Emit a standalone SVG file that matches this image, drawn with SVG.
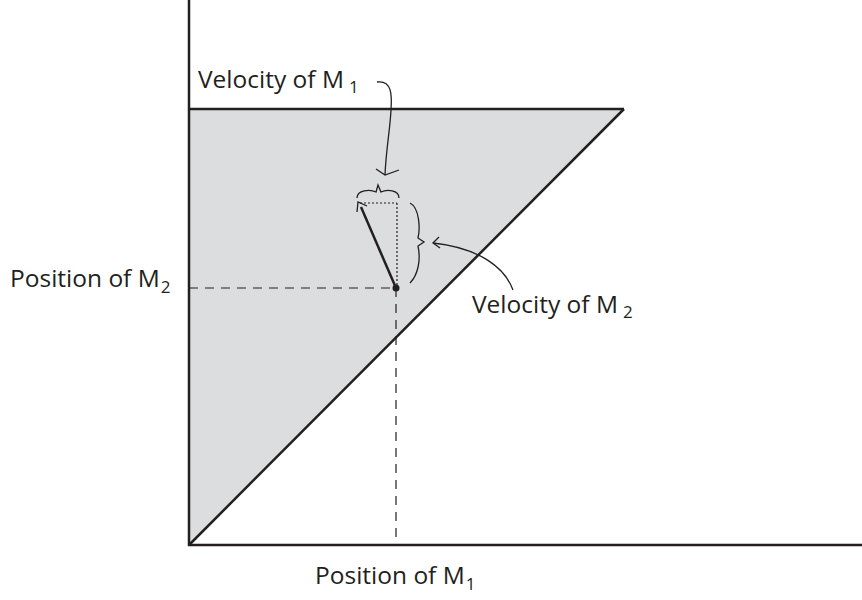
<svg xmlns="http://www.w3.org/2000/svg" width="862" height="600" viewBox="0 0 862 600">
<style>
.lbl{font-family:"Open Sans","Liberation Sans",sans-serif;font-size:24.5px;fill:#231f20}
.sub{font-size:17px}
.ax{stroke:#231f20;stroke-width:2.5;fill:none}
.thin{stroke:#231f20;stroke-width:1.3;fill:none}
.dash{stroke:#231f20;stroke-width:1.2;stroke-dasharray:9 7;fill:none}
.dot{stroke:#231f20;stroke-width:1.2;stroke-dasharray:2 2;fill:none}
</style>
<rect width="862" height="600" fill="#fff"/>
<g id="region">
<polygon points="189,109 624,109 189,545" fill="#dcdddf"/>
</g>
<g id="axes">
<line class="ax" x1="189" y1="0" x2="189" y2="546"/>
<line class="ax" x1="188" y1="545" x2="862" y2="545"/>
<line class="ax" x1="189" y1="109" x2="624" y2="109"/>
<line class="ax" x1="189" y1="545" x2="624" y2="109"/>
</g>
<g id="connectors">
<line class="dash" x1="189" y1="288" x2="396" y2="288"/>
<line class="dash" x1="396" y1="288" x2="396" y2="545"/>
<line class="dot" x1="360" y1="203" x2="397" y2="203"/>
<line class="dot" x1="397" y1="203" x2="397" y2="288"/>
<line stroke="#231f20" stroke-width="2.5" x1="396" y1="288" x2="361" y2="207"/>
<polyline class="thin" stroke-width="2.2" points="357,212 358,202 367,206"/>
<circle cx="396" cy="288" r="3.5" fill="#231f20"/>
<path class="thin" d="M357,198 C357,190 370,189 376,192 L378,185 L381,192 C387,189 399,190 399,198"/>
<path class="thin" d="M410,203 C420,208 420,230 418,238 L424,242 L418,246 C421,260 418,275 410,283"/>
<path class="thin" d="M513,290 C505,268 480,248 433,243"/>
<path class="thin" d="M439,237 L433,243 L440,248"/>
<path class="thin" stroke-width="1.8" d="M377,82 C392,80 392,95 391,110 C390,130 386,150 385,175"/>
<path class="thin" stroke-width="1.8" d="M376,169 L385,175 L399,170"/>
</g>
<g id="labels">
<text class="lbl" x="198" y="88">Velocity of M<tspan class="sub" dx="5" dy="5">1</tspan></text>
<text class="lbl" x="10" y="287">Position of M<tspan class="sub" dx="1" dy="6">2</tspan></text>
<text class="lbl" x="472" y="313">Velocity of M<tspan class="sub" dx="5" dy="5">2</tspan></text>
<text class="lbl" x="315" y="584">Position of M<tspan class="sub" dx="1" dy="6">1</tspan></text>
</g>
</svg>
